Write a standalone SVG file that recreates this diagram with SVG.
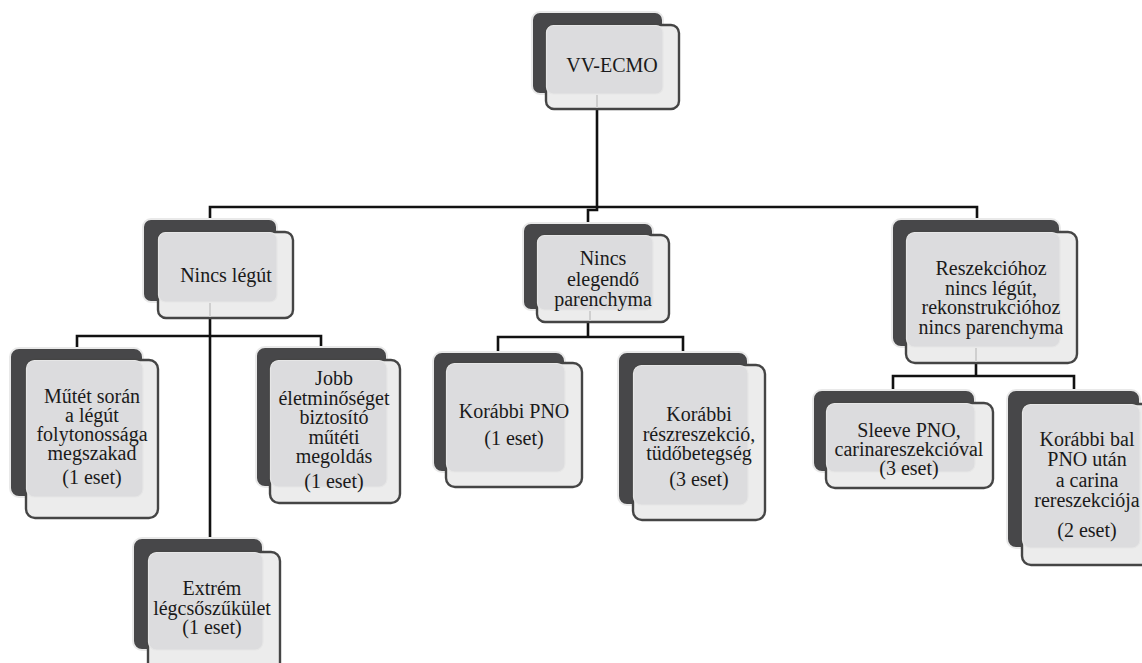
<svg xmlns="http://www.w3.org/2000/svg" width="1142" height="663" viewBox="0 0 1142 663">
<style>
.bg{fill:#ffffff}
.back{fill:#474749;stroke:#e9e9e9;stroke-width:2}
.front{fill:#ececec;stroke:#454545;stroke-width:2.4}
.ov{fill:#dcdcde;stroke:#e6e6e6;stroke-width:1.2}
text{font-family:'Liberation Serif','DejaVu Serif',serif;font-size:20px;fill:#1a1a1a;text-anchor:middle}
.c{fill:none;stroke:#111111;stroke-width:2.6}
.faint{fill:none;stroke:#cfcfcf;stroke-width:2}
</style>
<rect class="bg" x="0" y="0" width="1142" height="663"/>
<g id="connectors">
<path class="c" d="M597,109 V207"/>
<path class="c" d="M210,219 V207 H977 V219"/>
<path class="c" d="M597,207 V210 H588 V223"/>
<path class="c" d="M210,318 V538"/>
<path class="c" d="M77,348 V336 H321 V347"/>
<path class="c" d="M588,322 V337"/>
<path class="c" d="M498,352 V337 H683 V352"/>
<path class="c" d="M976,363 V376"/>
<path class="c" d="M893,390 V376 H1074 V390"/>
</g>
<g font-family="Liberation Serif, DejaVu Serif, serif" font-size="20">
<g id="n0">
<rect class="back" x="532" y="12" width="131" height="82" rx="8"/>
<rect class="front" x="546" y="25" width="133" height="84" rx="8"/>
<rect class="ov" x="546.5" y="25.5" width="116.5" height="68.5" rx="7"/>
<path class="faint" d="M597,95 V108"/>
<text x="612" y="72">VV-ECMO</text>
</g>
<g id="n1">
<rect class="back" x="143" y="219" width="134" height="83" rx="8"/>
<rect class="front" x="158" y="232" width="135" height="86" rx="8"/>
<rect class="ov" x="158.5" y="232.5" width="118.5" height="69.5" rx="7"/>
<path class="faint" d="M210,303 V317"/>
<text x="226" y="282">Nincs légút</text>
</g>
<g id="n2">
<rect class="back" x="523" y="223" width="130" height="87" rx="8"/>
<rect class="front" x="537" y="235" width="132" height="87" rx="8"/>
<rect class="ov" x="537.5" y="235.5" width="115.5" height="74.5" rx="7"/>
<path class="faint" d="M590,311 V321"/>
<text x="603" y="265">Nincs</text>
<text x="603" y="285.5">elegendő</text>
<text x="603" y="306">parenchyma</text>
</g>
<g id="n3">
<rect class="back" x="892" y="219" width="168" height="128" rx="9"/>
<rect class="front" x="906" y="232" width="171" height="131" rx="9"/>
<rect class="ov" x="906.5" y="232.5" width="153.5" height="114.5" rx="8"/>
<path class="faint" d="M976,348 V362"/>
<text x="991" y="275">Reszekcióhoz</text>
<text x="991" y="294.5">nincs légút,</text>
<text x="991" y="314">rekonstrukcióhoz</text>
<text x="991" y="333.5">nincs parenchyma</text>
</g>
<g id="n4">
<rect class="back" x="10" y="348" width="133" height="149" rx="9"/>
<rect class="front" x="26" y="360" width="132" height="158" rx="9"/>
<rect class="ov" x="26.5" y="360.5" width="116.5" height="136.5" rx="8"/>
<text x="92" y="403">Műtét során</text>
<text x="92" y="422">a légút</text>
<text x="92" y="441">folytonossága</text>
<text x="92" y="460">megszakad</text>
<text x="92" y="484">(1 eset)</text>
</g>
<g id="n5">
<rect class="back" x="256" y="347" width="131" height="140" rx="9"/>
<rect class="front" x="270" y="360" width="130" height="143" rx="9"/>
<rect class="ov" x="270.5" y="360.5" width="116.5" height="126.5" rx="8"/>
<text x="334" y="385">Jobb</text>
<text x="334" y="404.5">életminőséget</text>
<text x="334" y="424">biztosító</text>
<text x="334" y="443.5">műtéti</text>
<text x="334" y="463">megoldás</text>
<text x="334" y="488">(1 eset)</text>
</g>
<g id="n6">
<rect class="back" x="133" y="538" width="130" height="112" rx="9"/>
<rect class="front" x="148" y="552" width="132" height="120" rx="9"/>
<rect class="ov" x="148.5" y="552.5" width="114.5" height="97.5" rx="8"/>
<text x="212" y="595">Extrém</text>
<text x="212" y="615">légcsőszűkület</text>
<text x="212" y="634">(1 eset)</text>
</g>
<g id="n7">
<rect class="back" x="433" y="352" width="132" height="120" rx="9"/>
<rect class="front" x="446" y="363" width="136" height="124" rx="9"/>
<rect class="ov" x="446.5" y="363.5" width="118.5" height="108.5" rx="8"/>
<text x="514" y="418">Korábbi PNO</text>
<text x="514" y="445">(1 eset)</text>
</g>
<g id="n8">
<rect class="back" x="618" y="352" width="130" height="153" rx="9"/>
<rect class="front" x="633" y="365" width="132" height="155" rx="9"/>
<rect class="ov" x="633.5" y="365.5" width="114.5" height="139.5" rx="8"/>
<text x="699" y="421">Korábbi</text>
<text x="699" y="441">részreszekció,</text>
<text x="699" y="460">tüdőbetegség</text>
<text x="699" y="486">(3 eset)</text>
</g>
<g id="n9">
<rect class="back" x="813" y="390" width="162" height="82" rx="9"/>
<rect class="front" x="826" y="403" width="167" height="85" rx="9"/>
<rect class="ov" x="826.5" y="403.5" width="148.5" height="68.5" rx="8"/>
<text x="909" y="437">Sleeve PNO,</text>
<text x="909" y="456">carinareszekcióval</text>
<text x="909" y="475">(3 eset)</text>
</g>
<g id="n10">
<rect class="back" x="1007" y="390" width="133" height="158" rx="9"/>
<rect class="front" x="1022" y="404" width="133" height="161" rx="9"/>
<rect class="ov" x="1022.5" y="404.5" width="117.5" height="143.5" rx="8"/>
<text x="1087" y="446">Korábbi bal</text>
<text x="1087" y="466">PNO után</text>
<text x="1087" y="487">a carina</text>
<text x="1087" y="507">rereszekciója</text>
<text x="1087" y="537">(2 eset)</text>
</g>
</g>
</svg>
